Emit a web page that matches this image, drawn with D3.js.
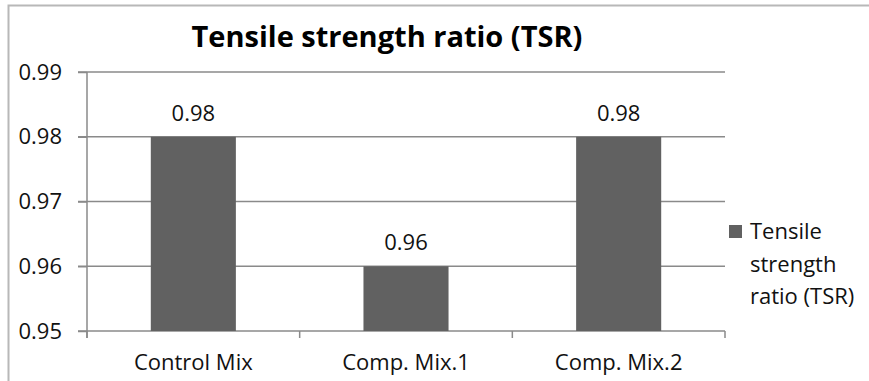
<!DOCTYPE html>
<html>
<head>
<meta charset="utf-8">
<script src="https://cdn.jsdelivr.net/npm/d3@7"></script>
<style>
  html, body { margin: 0; padding: 0; background: #fff; }
  svg { display: block; font-family: "Open Sans", "Noto Sans", sans-serif; }
</style>
</head>
<body>
<svg id="chart" width="869" height="381"></svg>
<script>
// TSR results per mix
const categories = ["Control Mix", "Comp. Mix.1", "Comp. Mix.2"];
const tsrValues = [0.98, 0.96, 0.98];
const yTicks = [0.95, 0.96, 0.97, 0.98, 0.99];
const seriesName = ["Tensile", "strength", "ratio (TSR)"];
const chartTitle = "Tensile strength ratio (TSR)";

const svg = d3.select("#chart");
const margin = { left: 87, right: 144, top: 72, bottom: 50 };
const W = 869, H = 381;
const fontSize = 22;

// outer chart frame (top and left edges)
svg.append("path")
  .attr("d", "M8.5,381 L8.5,5.5 L869,5.5")
  .attr("fill", "none").attr("stroke", "#b8b8b8").attr("stroke-width", 2);

const x = d3.scaleBand().domain(categories)
  .range([margin.left, W - margin.right]).paddingInner(0.6).paddingOuter(0.3);
const y = d3.scaleLinear().domain([0.95, 0.99]).range([H - margin.bottom, margin.top]);

// horizontal gridlines
svg.append("g").selectAll("line").data(yTicks).join("line")
  .attr("x1", margin.left - 9).attr("x2", W - margin.right)
  .attr("y1", d => y(d)).attr("y2", d => y(d))
  .attr("stroke", "#8a8a8a").attr("stroke-width", 1.5);

// y axis
const yAxis = svg.append("g").attr("transform", `translate(${margin.left},0)`)
  .call(d3.axisLeft(y).tickValues(yTicks).tickFormat(d3.format(".2f")).tickSize(9).tickPadding(16));
yAxis.select(".domain").attr("stroke", "#8a8a8a").attr("stroke-width", 1.5).attr("d", `M0,${margin.top}V${H - margin.bottom + 7}`);
yAxis.selectAll(".tick line").attr("stroke", "#8a8a8a").attr("stroke-width", 1.5);
yAxis.selectAll("text").attr("font-size", fontSize).attr("fill", "#111")
  .attr("font-family", "Open Sans, sans-serif");

// bars
svg.append("g").selectAll("rect").data(categories).join("rect")
  .attr("x", d => x(d))
  .attr("width", x.bandwidth())
  .attr("y", (d, i) => y(tsrValues[i]))
  .attr("height", (d, i) => y(0.95) - y(tsrValues[i]))
  .attr("fill", "#616161");

// x axis: category separators and labels
const step = (W - margin.right - margin.left) / categories.length;
const xAxis = svg.append("g").attr("transform", `translate(0,${y(0.95)})`)
  .call(d3.axisBottom(x).tickSize(0).tickPadding(23));
xAxis.select(".domain").remove();
xAxis.selectAll("text").attr("font-size", fontSize).attr("fill", "#111")
  .attr("font-family", "Open Sans, sans-serif");
svg.append("g").selectAll("line").data(d3.range(categories.length + 1)).join("line")
  .attr("x1", i => margin.left + i * step).attr("x2", i => margin.left + i * step)
  .attr("y1", y(0.95)).attr("y2", y(0.95) + 7)
  .attr("stroke", "#8a8a8a").attr("stroke-width", 1.5);

// value labels
svg.append("g").selectAll("text").data(categories).join("text")
  .attr("x", d => x(d) + x.bandwidth() / 2)
  .attr("y", (d, i) => y(tsrValues[i]) - 16)
  .attr("text-anchor", "middle").attr("font-size", fontSize).attr("fill", "#111")
  .text((d, i) => tsrValues[i].toFixed(2));

// title
svg.append("text").attr("x", 387).attr("y", 47)
  .attr("text-anchor", "middle").attr("font-size", 29).attr("font-weight", "bold")
  .attr("fill", "#000").text(chartTitle);

// legend
const lg = svg.append("g");
lg.append("rect").attr("x", 729).attr("y", 225).attr("width", 13).attr("height", 13).attr("fill", "#616161");
lg.selectAll("text").data(seriesName).join("text")
  .attr("x", 750).attr("y", (d, i) => 239 + i * 32.5)
  .attr("font-size", fontSize).attr("fill", "#111").text(d => d);
</script>
</body>
</html>
